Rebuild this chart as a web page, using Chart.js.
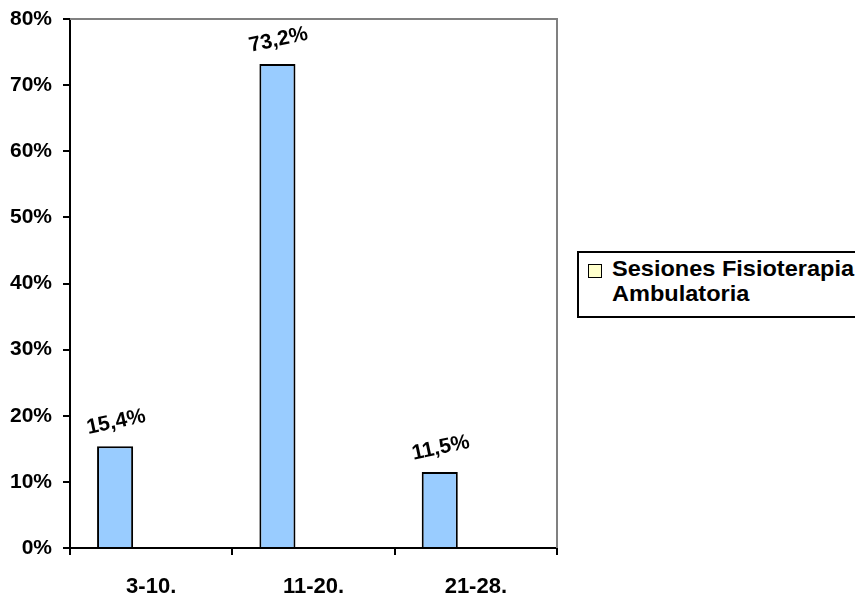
<!DOCTYPE html>
<html>
<head>
<meta charset="utf-8">
<script src="https://cdn.jsdelivr.net/npm/chart.js@4.4.1/dist/chart.umd.min.js"></script>
<style>
  html, body { margin: 0; padding: 0; background: #fff; overflow: hidden; }
  #wrap { position: relative; width: 855px; height: 598px; overflow: hidden; }
  #legend {
    position: absolute; left: 577px; top: 251px; width: 320px; height: 63px;
    border: 2px solid #000; background: #fff; box-sizing: content-box;
  }
  #legend .swatch {
    position: absolute; left: 9px; top: 11px; width: 12px; height: 12px;
    border: 1.5px solid #000;
  }
  #legend .text {
    position: absolute; left: 33px; top: 4px; white-space: nowrap;
    font: bold 22px 'Liberation Sans', Arial, sans-serif; line-height: 24.7px; color: #000;
    transform: scaleX(1.07); transform-origin: left top;
  }
</style>
</head>
<body>
<div id="wrap">
  <canvas id="chart" width="855" height="598"></canvas>
  <div id="legend"></div>
</div>
<script>
// Session ranges and the share of patients in each range (percent)
const categories = ['3-10.', '11-20.', '21-28.'];
const sessionShare = [15.4, 73.2, 11.5];
const emptySeries = [null, null, null];
const seriesNames = ['Sesiones', 'Sesiones Fisioterapia Ambulatoria', 'Serie 3'];
const yTicks = [0, 10, 20, 30, 40, 50, 60, 70, 80];

const FONT = "'Liberation Sans', Arial, sans-serif";

// Frame: gray top and right edges of the plot area
const framePlugin = {
  id: 'frame',
  beforeDatasetsDraw(chart) {
    const { ctx, chartArea: a } = chart;
    ctx.save();
    ctx.strokeStyle = '#808080';
    ctx.lineWidth = 2;
    ctx.beginPath();
    ctx.moveTo(a.left, a.top);
    ctx.lineTo(a.right, a.top);
    ctx.lineTo(a.right, a.bottom);
    ctx.stroke();
    ctx.restore();
  }
};

// Rotated value labels above each bar
const valueLabels = {
  id: 'valueLabels',
  afterDatasetsDraw(chart) {
    const { ctx } = chart;
    const meta = chart.getDatasetMeta(0);
    ctx.save();
    ctx.fillStyle = '#000';
    ctx.font = 'bold 21px ' + FONT;
    ctx.textAlign = 'center';
    ctx.textBaseline = 'middle';
    meta.data.forEach((bar, i) => {
      const v = sessionShare[i];
      const txt = v.toFixed(1).replace('.', ',') + '%';
      ctx.save();
      ctx.translate(bar.x + 1, bar.y - 24);
      ctx.rotate(-12 * Math.PI / 180);
      ctx.fillText(txt, 0, 0);
      ctx.restore();
    });
    ctx.restore();
  }
};

const chart = new Chart(document.getElementById('chart'), {
  type: 'bar',
  data: {
    labels: categories,
    datasets: [
      { label: seriesNames[0], data: sessionShare, backgroundColor: '#99CCFF', borderColor: '#000', borderWidth: 2, legend: false },
      { label: seriesNames[1], data: emptySeries, backgroundColor: '#FFFFCC', borderColor: '#000', borderWidth: 2, legend: true },
      { label: seriesNames[2], data: emptySeries, backgroundColor: '#CCFFFF', borderColor: '#000', borderWidth: 2, legend: false }
    ]
  },
  options: {
    responsive: false,
    animation: false,
    events: [],
    layout: { padding: { top: 19, right: 298, left: 0, bottom: 0 } },
    datasets: { bar: { categoryPercentage: 2 / 3, barPercentage: 1 } },
    plugins: { legend: { display: false }, tooltip: { enabled: false } },
    scales: {
      x: {
        grid: { offset: true, drawOnChartArea: false, color: '#000', lineWidth: 2, tickLength: 7 },
        border: { color: '#000', width: 2 },
        ticks: { color: '#000', font: { family: FONT, size: 22, weight: 'bold' }, padding: 19, maxRotation: 0 },
        afterFit(s) { s.height = 50; s.paddingLeft = 0; s.paddingRight = 0; }
      },
      y: {
        min: 0, max: 80,
        afterBuildTicks(s) { s.ticks = yTicks.map(v => ({ value: v })); },
        grid: { drawOnChartArea: false, color: '#000', lineWidth: 2, tickLength: 7 },
        border: { color: '#000', width: 2 },
        ticks: { color: '#000', font: { family: FONT, size: 21, weight: 'bold' }, padding: 11, callback: v => v + '%' },
        afterFit(s) { s.width = 70; s.paddingTop = 0; s.paddingBottom = 0; }
      }
    }
  },
  plugins: [framePlugin, valueLabels]
});

// Legend built from the datasets flagged for it
const legendEl = document.getElementById('legend');
chart.data.datasets.filter(d => d.legend).forEach(d => {
  const sw = document.createElement('div');
  sw.className = 'swatch';
  sw.style.background = d.backgroundColor;
  legendEl.appendChild(sw);
  const words = d.label.split(' ');
  const t = document.createElement('div');
  t.className = 'text';
  t.innerHTML = words.slice(0, 2).join(' ') + '<br>' + words.slice(2).join(' ');
  legendEl.appendChild(t);
});
</script>
</body>
</html>
